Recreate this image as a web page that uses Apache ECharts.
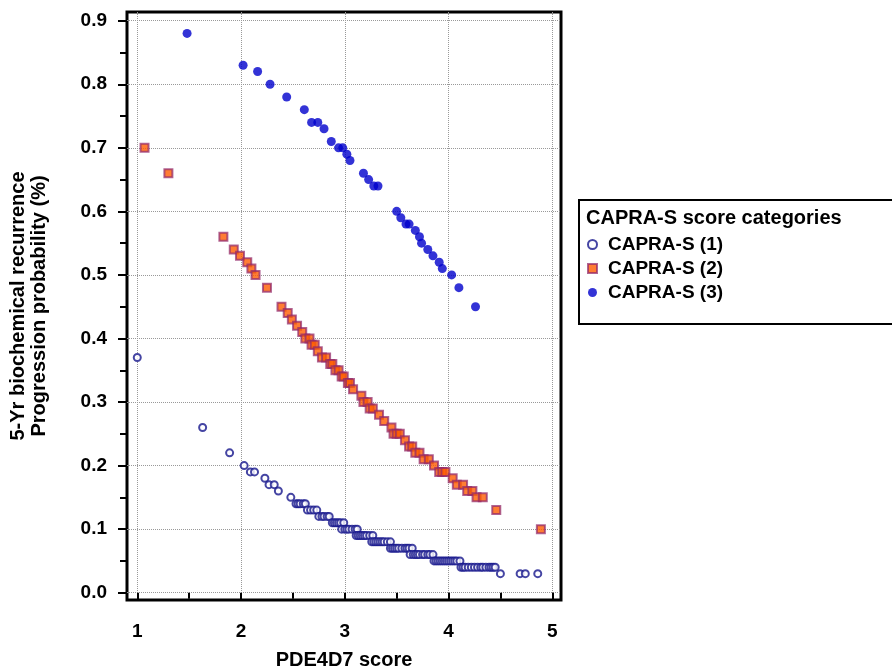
<!DOCTYPE html>
<html>
<head>
<meta charset="utf-8">
<script src="https://cdn.jsdelivr.net/npm/echarts@6/dist/echarts.min.js"></script>
<style>
  html, body { margin: 0; padding: 0; background: #fff; }
  #chart { width: 892px; height: 672px; }
</style>
</head>
<body>
<div id="chart"></div>
<script>
// CAPRA-S (1): [PDE4D7 score, probability]
const capra1 = [
  [1.00,0.37],[1.63,0.26],[1.89,0.22],[2.03,0.20],[2.09,0.19],[2.13,0.19],[2.23,0.18],[2.27,0.17],[2.32,0.17],[2.36,0.16],[2.48,0.15],
  [2.53,0.14],[2.55,0.14],[2.57,0.14],[2.60,0.14],[2.62,0.14],
  [2.64,0.13],[2.67,0.13],[2.70,0.13],[2.73,0.13],
  [2.75,0.12],[2.78,0.12],[2.80,0.12],[2.83,0.12],[2.85,0.12],
  [2.88,0.11],[2.90,0.11],[2.92,0.11],[2.94,0.11],[2.96,0.11],[2.99,0.11],
  [2.97,0.10],[3.00,0.10],[3.02,0.10],[3.04,0.10],[3.07,0.10],[3.10,0.10],[3.12,0.10],
  [3.11,0.09],[3.13,0.09],[3.15,0.09],[3.17,0.09],[3.19,0.09],[3.21,0.09],[3.24,0.09],[3.27,0.09],
  [3.26,0.08],[3.28,0.08],[3.30,0.08],[3.32,0.08],[3.34,0.08],[3.36,0.08],[3.38,0.08],[3.41,0.08],[3.44,0.08],
  [3.44,0.07],[3.46,0.07],[3.48,0.07],[3.50,0.07],[3.52,0.07],[3.55,0.07],[3.58,0.07],[3.60,0.07],[3.62,0.07],[3.65,0.07],
  [3.63,0.06],[3.66,0.06],[3.68,0.06],[3.70,0.06],[3.72,0.06],[3.75,0.06],[3.77,0.06],[3.80,0.06],[3.82,0.06],[3.85,0.06],
  [3.86,0.05],[3.88,0.05],[3.90,0.05],[3.92,0.05],[3.94,0.05],[3.96,0.05],[3.98,0.05],[4.00,0.05],[4.02,0.05],[4.04,0.05],[4.06,0.05],[4.08,0.05],[4.11,0.05],
  [4.12,0.04],[4.14,0.04],[4.16,0.04],[4.19,0.04],[4.22,0.04],[4.25,0.04],[4.28,0.04],[4.31,0.04],[4.33,0.04],[4.36,0.04],[4.39,0.04],[4.41,0.04],[4.43,0.04],[4.45,0.04],
  [4.50,0.03],[4.69,0.03],[4.74,0.03],[4.86,0.03]
]
// CAPRA-S (2)
const capra2 = [
  [1.07,0.70],[1.30,0.66],[1.83,0.56],[1.93,0.54],[1.99,0.53],[2.06,0.52],[2.10,0.51],[2.14,0.50],[2.25,0.48],
  [2.39,0.45],[2.45,0.44],[2.49,0.43],[2.54,0.42],[2.59,0.41],[2.62,0.40],[2.66,0.40],[2.68,0.39],[2.71,0.39],
  [2.74,0.38],[2.78,0.37],[2.82,0.37],[2.86,0.36],[2.88,0.36],[2.91,0.35],[2.94,0.35],[2.97,0.34],[2.99,0.34],
  [3.03,0.33],[3.05,0.33],[3.08,0.32],[3.16,0.31],[3.18,0.30],[3.22,0.30],[3.24,0.29],[3.27,0.29],[3.33,0.28],
  [3.38,0.27],[3.45,0.26],[3.47,0.25],[3.50,0.25],[3.53,0.25],[3.58,0.24],[3.62,0.23],[3.65,0.23],[3.68,0.22],
  [3.72,0.22],[3.76,0.21],[3.81,0.21],[3.86,0.20],[3.91,0.19],[3.94,0.19],[3.97,0.19],[4.04,0.18],[4.08,0.17],
  [4.14,0.17],[4.18,0.16],[4.23,0.16],[4.27,0.15],[4.33,0.15],[4.46,0.13],[4.89,0.10]
]
// CAPRA-S (3)
const capra3 = [
  [1.48,0.88],[2.02,0.83],[2.16,0.82],[2.28,0.80],[2.44,0.78],[2.61,0.76],[2.68,0.74],[2.74,0.74],[2.80,0.73],
  [2.87,0.71],[2.94,0.70],[2.98,0.70],[3.02,0.69],[3.05,0.68],[3.18,0.66],[3.23,0.65],[3.28,0.64],[3.32,0.64],
  [3.50,0.60],[3.54,0.59],[3.59,0.58],[3.62,0.58],[3.68,0.57],[3.72,0.56],[3.74,0.55],[3.80,0.54],[3.85,0.53],
  [3.91,0.52],[3.94,0.51],[4.03,0.50],[4.10,0.48],[4.26,0.45]
]
const xTicks = [1, 2, 3, 4, 5]
const xMinorTicks = [1.5, 2.5, 3.5, 4.5]
const yTicks = [0, 0.1, 0.2, 0.3, 0.4, 0.5, 0.6, 0.7, 0.8, 0.9]
const yMinorTicks = [0.05, 0.15, 0.25, 0.35, 0.45, 0.55, 0.65, 0.75, 0.85]

const font = 'Liberation Sans, Arial, sans-serif'
const labelStyle = { color: '#000', fontSize: 19, fontWeight: 'bold', fontFamily: font }
const nameStyle = { color: '#000', fontSize: 20, fontWeight: 'bold', fontFamily: font }
const gridLine = { show: true, lineStyle: { color: '#999', type: 'dotted', width: 1 } }

let chart = echarts.init(document.getElementById('chart'))

// major axes carry labels, ticks and grid lines; the minor ones only short ticks
let xBase = { type: 'value', gridIndex: 0, min: 0.901, max: 5.084, position: 'bottom',
  axisLine: { show: false } }
let yBase = { type: 'value', gridIndex: 0, min: -0.0115, max: 0.9137, position: 'left',
  axisLine: { show: false } }

chart.setOption({
  animation: false,
  grid: { left: 127, top: 12, width: 434, height: 588, show: true, borderColor: '#000', borderWidth: 3,
    outerBoundsMode: 'none', containLabel: false },
  title: {
    text: 'CAPRA-S score categories', left: 586, top: 208, padding: 0,
    textStyle: nameStyle
  },
  legend: {
    orient: 'vertical', left: 579, top: 200,
    padding: [35, 200, 22, 8], itemGap: 5,
    borderColor: '#000', borderWidth: 2,
    itemWidth: 9, itemHeight: 9,
    textStyle: { color: '#000', fontSize: 19, fontWeight: 'bold', fontFamily: font, padding: [0, 0, 0, 6] },
    data: ['CAPRA-S (1)', 'CAPRA-S (2)', 'CAPRA-S (3)']
  },
  xAxis: [
    Object.assign({}, xBase, {
      name: 'PDE4D7 score', nameLocation: 'middle', nameGap: 50,
      nameTextStyle: nameStyle,
      axisTick: { show: true, inside: false, length: 8, customValues: xTicks, lineStyle: { color: '#000', width: 2 } },
      axisLabel: Object.assign({ margin: 22, customValues: xTicks, formatter: v => String(v) }, labelStyle),
      splitLine: gridLine
    }),
    Object.assign({}, xBase, {
      axisTick: { show: true, length: 6, customValues: xMinorTicks, lineStyle: { color: '#000', width: 2 } },
      axisLabel: { show: false }, splitLine: { show: false }
    })
  ],
  yAxis: [
    Object.assign({}, yBase, {
      name: '5-Yr biochemical recurrence\nProgression probability (%)',
      nameLocation: 'middle', nameGap: 77, nameRotate: 90,
      nameTextStyle: Object.assign({}, nameStyle, { lineHeight: 21 }),
      axisTick: { show: true, length: 9, customValues: yTicks, lineStyle: { color: '#000', width: 2 } },
      axisLabel: Object.assign({ margin: 20, customValues: yTicks, formatter: v => v.toFixed(1) }, labelStyle),
      splitLine: gridLine
    }),
    Object.assign({}, yBase, {
      axisTick: { show: true, length: 7, customValues: yMinorTicks, lineStyle: { color: '#000', width: 2 } },
      axisLabel: { show: false }, splitLine: { show: false }
    })
  ],
  series: [
    {
      name: 'CAPRA-S (1)', type: 'scatter', data: capra1, symbol: 'circle', symbolSize: 7,
      itemStyle: { color: '#fff', borderColor: '#16168c', borderWidth: 2 }
    },
    {
      name: 'CAPRA-S (2)', type: 'scatter', data: capra2, symbol: 'rect', symbolSize: 8,
      itemStyle: { color: '#ff5c00', borderColor: 'rgba(145,40,105,0.9)', borderWidth: 2 }
    },
    {
      name: 'CAPRA-S (3)', type: 'scatter', data: capra3, symbol: 'circle', symbolSize: 9,
      itemStyle: { color: '#0000cc' }
    }
  ]
})
</script>
</body>
</html>
